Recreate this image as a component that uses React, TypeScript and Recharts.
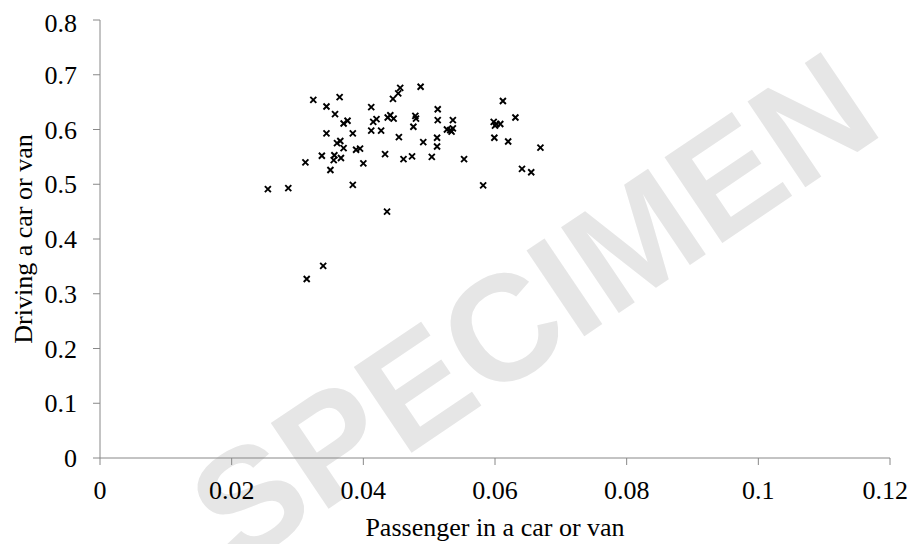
import { ScatterChart, Scatter, XAxis, YAxis } from "recharts"

// values
const passengerValues = [
  0.0255, 0.0286, 0.0314, 0.0339, 0.0312, 0.0324, 0.0337, 0.0344, 0.0344, 0.035,
  0.0355, 0.0356, 0.0357, 0.036, 0.0365, 0.0364, 0.0366, 0.037, 0.037, 0.0376,
  0.0384, 0.0384, 0.0389, 0.0395, 0.04, 0.0412, 0.0412, 0.0415, 0.042, 0.0427,
  0.0433, 0.0436, 0.0437, 0.0441, 0.0446, 0.0445, 0.0453, 0.0456, 0.0454, 0.0461,
  0.0474, 0.0476, 0.0479, 0.048, 0.0487, 0.0491, 0.0504, 0.0512, 0.0512, 0.0513,
  0.0513, 0.0527, 0.0532, 0.0536, 0.0534, 0.0536, 0.0553, 0.0582, 0.0599, 0.0598,
  0.0602, 0.0608, 0.06, 0.0612, 0.062, 0.0631, 0.0641, 0.0655, 0.0669,
]

const drivingValues = [
  0.491, 0.493, 0.327, 0.351, 0.54, 0.654, 0.552, 0.642, 0.593, 0.526,
  0.544, 0.553, 0.628, 0.575, 0.579, 0.659, 0.548, 0.566, 0.611, 0.616,
  0.593, 0.499, 0.563, 0.565, 0.538, 0.641, 0.598, 0.614, 0.619, 0.598,
  0.555, 0.45, 0.622, 0.626, 0.62, 0.656, 0.666, 0.676, 0.586, 0.546,
  0.551, 0.605, 0.625, 0.62, 0.678, 0.577, 0.55, 0.585, 0.569, 0.637,
  0.617, 0.6, 0.599, 0.602, 0.596, 0.617, 0.546, 0.498, 0.585, 0.614,
  0.61, 0.61, 0.607, 0.652, 0.578, 0.622, 0.528, 0.522, 0.567,
]

const xTicks = [0, 0.02, 0.04, 0.06, 0.08, 0.1, 0.12]
const yTicks = [0, 0.1, 0.2, 0.3, 0.4, 0.5, 0.6, 0.7, 0.8]

const points = passengerValues.map((x, i) => ({ x, y: drivingValues[i] }))

const font = "'Liberation Serif', 'Times New Roman', serif"
const tickStyle = { fill: "#000", fontSize: 26, fontFamily: font }

function Cross(props: any) {
  const { cx, cy } = props
  const s = 3
  return (
    <path
      d={`M${cx - s},${cy - s}L${cx + s},${cy + s}M${cx + s},${cy - s}L${cx - s},${cy + s}`}
      stroke="#000"
      strokeWidth={1.9}
      fill="none"
    />
  )
}

export default function App() {
  return (
    <div style={{ position: "relative", width: 900, height: 536, overflow: "hidden" }}>
      <div
        style={{
          position: "absolute",
          left: 525,
          top: 300,
          transform: "translate(-50%, -50%) rotate(-34deg)",
          fontFamily: "'Liberation Sans', Arial, sans-serif",
          fontWeight: "bold",
          fontSize: 150,
          color: "#e6e6e6",
          whiteSpace: "nowrap",
          lineHeight: 1,
          zIndex: 0,
        }}
      >
        SPECIMEN
      </div>
      <div style={{ position: "absolute", left: 0, top: 0, zIndex: 1 }}>
        <ScatterChart width={900} height={536} margin={{ top: 12, right: 18, bottom: 0, left: 7 }}>
          <XAxis
            type="number"
            dataKey="x"
            domain={[0, 0.12]}
            ticks={xTicks}
            height={86}
            stroke="#888"
            tickSize={7}
            tickMargin={16}
            tick={tickStyle}
            label={{
              value: "Passenger in a car or van",
              position: "insideBottom",
              offset: 8,
              style: { fill: "#000", fontSize: 26, fontFamily: font },
            }}
          />
          <YAxis
            type="number"
            dataKey="y"
            domain={[0, 0.8]}
            ticks={yTicks}
            width={85}
            stroke="#888"
            tickSize={7}
            tickMargin={16}
            tick={tickStyle}
            label={{
              value: "Driving a car or van",
              angle: -90,
              position: "insideLeft",
              offset: 8,
              style: { fill: "#000", fontSize: 26, fontFamily: font, textAnchor: "middle" },
            }}
          />
          <Scatter data={points} shape={Cross} isAnimationActive={false} />
        </ScatterChart>
      </div>
    </div>
  )
}
